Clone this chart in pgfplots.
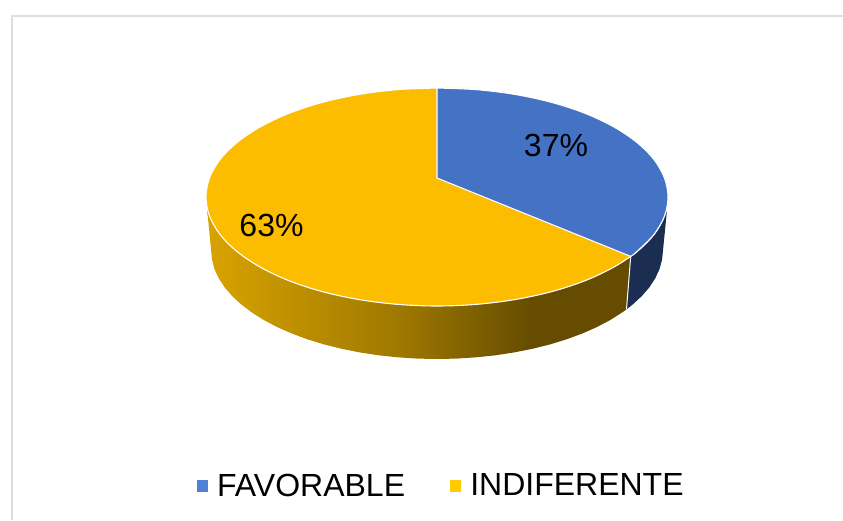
\documentclass[border=0pt]{standalone}
\usepackage{pgfplots}
\pgfplotsset{compat=1.18}
\usepackage{fontspec}
\setmainfont{Liberation Sans}
\definecolor{pieblue}{HTML}{4472C4}
\definecolor{pieorange}{HTML}{FCBD00}
\definecolor{sideblue}{HTML}{1B2E52}
\definecolor{legblue}{HTML}{4F7FD6}
\definecolor{legorange}{HTML}{FFCC00}
\definecolor{framegray}{HTML}{DEDEDE}
\pgfdeclarehorizontalshading{orangeside}{100bp}{%
 rgb(0bp)=(0.85,0.64,0);
 rgb(25bp)=(0.85,0.64,0);
 rgb(47.8bp)=(0.62,0.47,0);
 rgb(63.2bp)=(0.40,0.30,0);
 rgb(100bp)=(0.38,0.29,0)}
\begin{document}
\begin{tikzpicture}
\begin{axis}[
  width=843pt, height=520pt, scale only axis,
  xmin=0, xmax=843, ymin=0, ymax=520, y dir=reverse,
  axis lines=none, ticks=none,
  legend columns=2,
  legend style={draw=none, fill=none, at={(0.5235,0.066)}, anchor=center,
    font=\fontsize{32}{38}\selectfont, inner sep=0pt,
    /tikz/every odd column/.append style={column sep=8pt},
    /tikz/every even column/.append style={column sep=43pt}},
]
% page extent
\addplot[forget plot, draw=none] coordinates {(0,0)(843,520)};
% frame
\addplot[forget plot, framegray, line width=2pt] coordinates {(12,520)(12,16)(843,16)};
% orange side
\addplot[forget plot, shading=orangeside, draw=none] coordinates {
(630.7,256.4)(614,267)(585.5,280.5)(552.5,291.4)(516,299.4)(477.1,304.3)(437,306)(396.9,304.3)(358,299.4)(321.5,291.4)(288.5,280.5)(260,267)(237,251.5)(219.9,234.3)(209.5,215.9)(207,208)
(212,259.5)(214.4,268.9)(218.7,278.2)(224.6,287.3)(232.2,296.1)(241.3,304.5)(251.9,312.5)(263.9,320.1)(277.2,327.1)(291.7,333.5)(307.4,339.3)(324,344.4)(341.5,348.8)(359.7,352.4)(378.5,355.3)(397.8,357.3)(417.3,358.6)(437,359)(456.7,358.6)(476.2,357.3)(495.5,355.3)(514.3,352.4)(532.5,348.8)(550,344.4)(566.6,339.3)(582.3,333.5)(596.8,327.1)(610.1,320.1)(622.1,312.5)(626.5,309.4)};
% blue side
\addplot[forget plot, fill=sideblue, draw=none] coordinates {
(630.7,256.4)(637,251.5)(646.4,243.1)(654.1,234.3)(660.1,225.2)(664.5,215.9)(667,210)
(662.1,259.5)(659.6,268.9)(655.3,278.2)(649.4,287.3)(641.8,296.1)(632.7,304.5)(626.5,309.4)};
% white line between the sides
\addplot[forget plot, white, line width=1pt] coordinates {(630.7,256.4)(626.5,309.4)};
% top: whole disc, indiferente 63%
\addplot[forget plot, smooth, tension=0.55, fill=pieorange, draw=white, line width=1.1pt] coordinates {
(437,88)(477.1,89.7)(516,94.6)(552.5,102.6)(585.5,113.5)(614,127)(637,142.5)(654.1,159.7)(664.5,178.1)(668,197)(664.5,215.9)(654.1,234.3)(637,251.5)(614,267)(585.5,280.5)(552.5,291.4)(516,299.4)(477.1,304.3)(437,306)(396.9,304.3)(358,299.4)(321.5,291.4)(288.5,280.5)(260,267)(237,251.5)(219.9,234.3)(209.5,215.9)(206,197)(209.5,178.1)(219.9,159.7)(237,142.5)(260,127)(288.5,113.5)(321.5,102.6)(358,94.6)(396.9,89.7)(437,88)};
% top: favorable 37%
\addplot[forget plot, fill=pieblue, draw=pieblue, line width=0.5pt] coordinates {(437,88)(630.7,256.4)(437,178)};
\addplot[forget plot, smooth, tension=0.55, fill=pieblue, draw=white, line width=1.1pt] coordinates {
(437,88)(477.1,89.7)(516,94.6)(552.5,102.6)(585.5,113.5)(614,127)(637,142.5)(654.1,159.7)(664.5,178.1)(668,197)(664.5,215.9)(654.1,234.3)(637,251.5)(630.7,256.4)};
% slice borders
\addplot[forget plot, white, line width=1.1pt] coordinates {(437,88)(437,178)(630.7,256.4)};
\addlegendimage{only marks, mark=square*, mark size=5.1pt, color=legblue}
\addlegendentry{FAVORABLE}
\addlegendimage{only marks, mark=square*, mark size=5.1pt, color=legorange}
\addlegendentry{INDIFERENTE}
\node[anchor=base, inner sep=0pt, font=\fontsize{32}{38}\selectfont] at (axis cs:556,156.5) {37\%};
\node[anchor=base, inner sep=0pt, font=\fontsize{32}{38}\selectfont] at (axis cs:271.5,236.5) {63\%};
\end{axis}
\end{tikzpicture}
\end{document}
